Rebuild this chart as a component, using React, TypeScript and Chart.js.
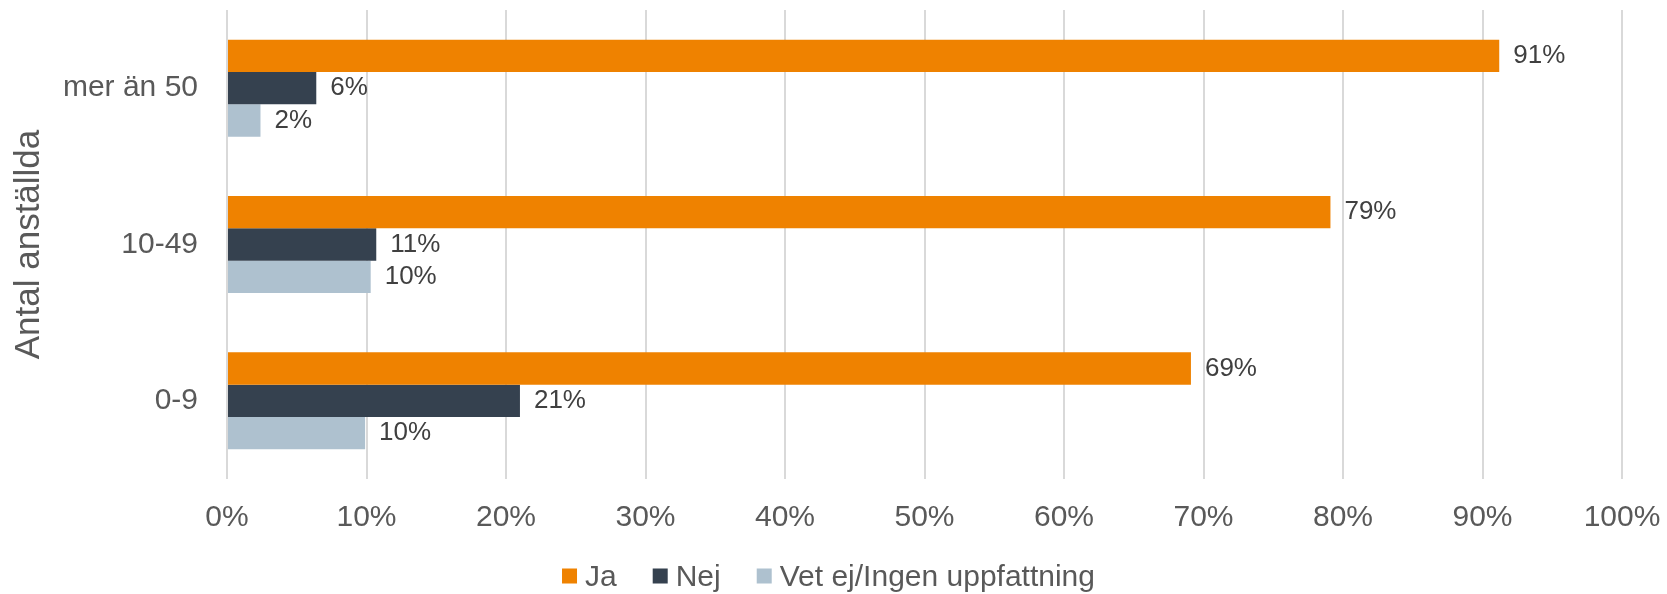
import React, { useEffect, useRef } from "react";
import { Chart, registerables } from "chart.js";

Chart.register(...registerables);

const categories = ["mer än 50", "10-49", "0-9"];
const seriesNames = ["Ja", "Nej", "Vet ej/Ingen uppfattning"];
const jaValues = [91.2, 79.1, 69.1];
const nejValues = [6.4, 10.7, 21.0];
const vetEjValues = [2.4, 10.3, 9.9];
const xTicks = [0, 10, 20, 30, 40, 50, 60, 70, 80, 90, 100];
const axisTitle = "Antal anställda";

const colors = ["#EF8200", "#35414F", "#AEC1CF"];
const FONT = "'Liberation Sans', Arial, sans-serif";
const AXIS_COLOR = "#595959";
const LABEL_COLOR = "#404040";

const dataLabelPlugin = {
  id: "dataLabels",
  afterDatasetsDraw(chart: any) {
    const ctx = chart.ctx;
    ctx.save();
    ctx.font = `26px ${FONT}`;
    ctx.fillStyle = LABEL_COLOR;
    ctx.textAlign = "left";
    ctx.textBaseline = "middle";
    chart.data.datasets.forEach((ds: any, di: number) => {
      const meta = chart.getDatasetMeta(di);
      meta.data.forEach((bar: any, i: number) => {
        const v = ds.data[i];
        ctx.fillText(Math.round(v) + "%", bar.x + 14, bar.y);
      });
    });
    ctx.restore();
  },
};

const legendPlugin = {
  id: "customLegend",
  afterDraw(chart: any) {
    const ctx = chart.ctx;
    ctx.save();
    ctx.font = `30px ${FONT}`;
    const box = 15;
    const gapText = 8;
    const gapItem = 36;
    const widths = seriesNames.map((n) => ctx.measureText(n).width);
    let total = 0;
    widths.forEach((w, i) => {
      total += box + gapText + w + (i < widths.length - 1 ? gapItem : 0);
    });
    let x = chart.width / 2 - 5 - total / 2;
    const yMid = 576;
    seriesNames.forEach((n, i) => {
      ctx.fillStyle = colors[i];
      ctx.fillRect(x, yMid - box / 2, box, box);
      ctx.fillStyle = AXIS_COLOR;
      ctx.textAlign = "left";
      ctx.textBaseline = "middle";
      ctx.fillText(n, x + box + gapText, yMid + 2);
      x += box + gapText + widths[i] + gapItem;
    });
    ctx.restore();
  },
};

export default function App() {
  const canvasRef = useRef<HTMLCanvasElement | null>(null);

  useEffect(() => {
    if (!canvasRef.current) return;
    const chart = new Chart(canvasRef.current, {
      type: "bar",
      data: {
        labels: categories,
        datasets: [
          { label: seriesNames[0], data: jaValues, backgroundColor: colors[0] },
          { label: seriesNames[1], data: nejValues, backgroundColor: colors[1] },
          { label: seriesNames[2], data: vetEjValues, backgroundColor: colors[2] },
        ],
      },
      options: {
        indexAxis: "y",
        responsive: false,
        animation: false,
        devicePixelRatio: 1,
        datasets: {
          bar: { categoryPercentage: 0.62, barPercentage: 1, borderWidth: 0 },
        },
        layout: { padding: { top: 10, right: 45, bottom: 0, left: 0 } },
        plugins: {
          legend: { display: false },
          tooltip: { enabled: false },
        },
        scales: {
          x: {
            min: 0,
            max: 100,
            afterBuildTicks: (scale: any) => {
              scale.ticks = xTicks.map((v) => ({ value: v }));
            },
            afterFit: (scale: any) => {
              scale.height = 115;
              scale.paddingLeft = 0;
              scale.paddingRight = 0;
            },
            grid: { color: "#D9D9D9", lineWidth: 2, drawTicks: false },
            border: { display: false },
            ticks: {
              padding: 21,
              color: AXIS_COLOR,
              font: { family: FONT, size: 30 },
              callback: (v: any) => v + "%",
              maxRotation: 0,
            },
          },
          y: {
            afterFit: (scale: any) => {
              scale.width = 227;
              scale.paddingTop = 0;
              scale.paddingBottom = 0;
            },
            grid: { display: false, drawTicks: false },
            border: { display: false },
            ticks: {
              padding: 29,
              color: AXIS_COLOR,
              font: { family: FONT, size: 30 },
            },
            title: {
              display: true,
              text: axisTitle,
              color: AXIS_COLOR,
              font: { family: FONT, size: 35 },
              padding: { top: 8, bottom: 0 },
            },
          },
        },
      },
      plugins: [dataLabelPlugin, legendPlugin],
    } as any);
    return () => chart.destroy();
  }, []);

  return (
    <div style={{ position: "fixed", left: 0, top: 0, width: 1667, height: 594, background: "#fff" }}>
      <canvas ref={canvasRef} width={1667} height={594} />
    </div>
  );
}
